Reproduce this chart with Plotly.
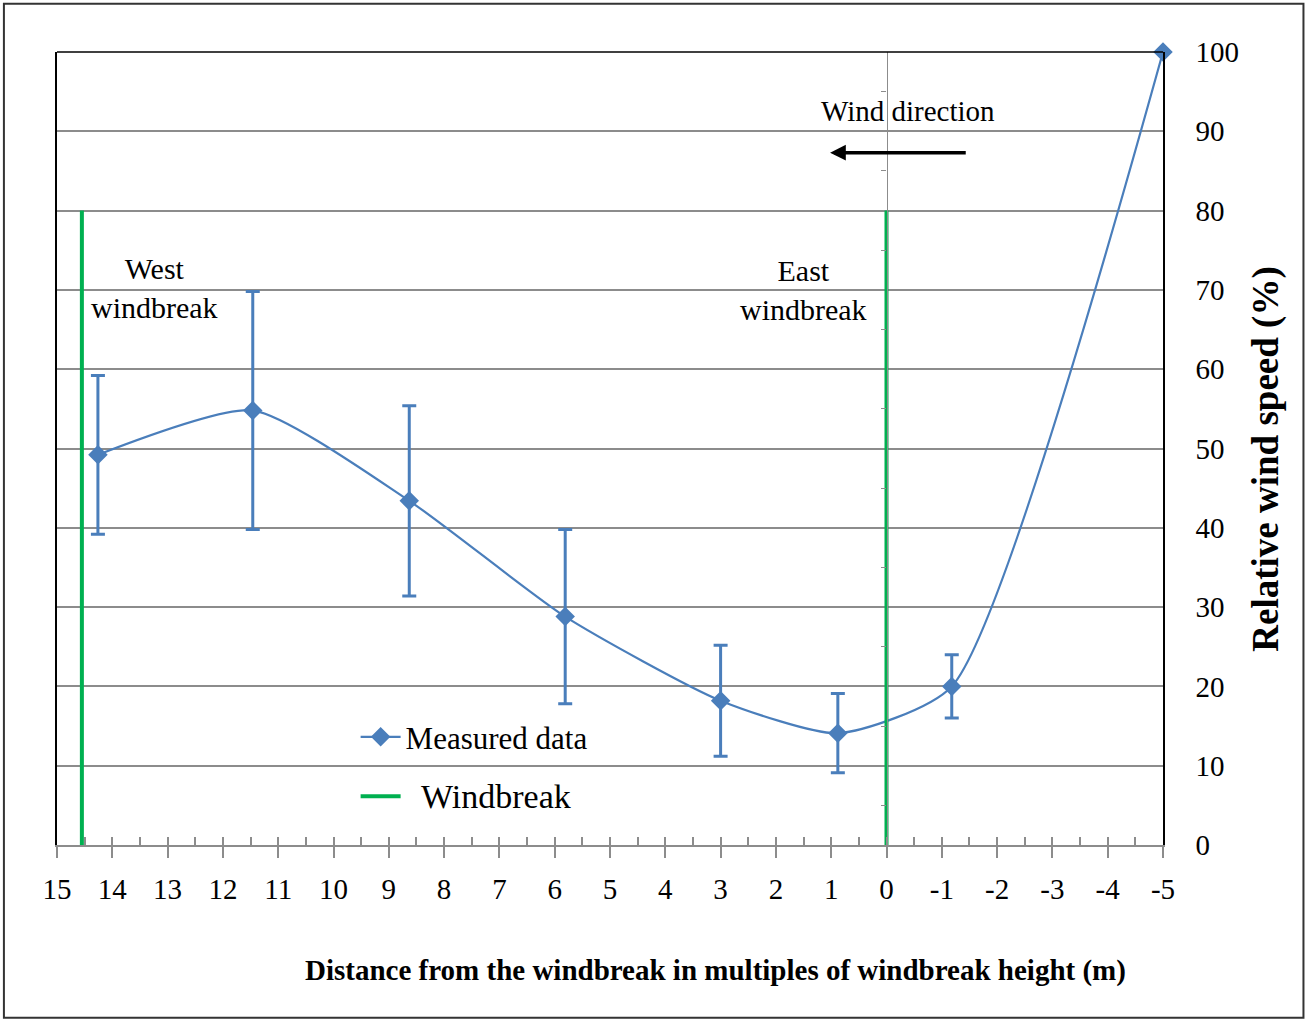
import plotly.graph_objects as go

# Measured relative wind speed versus distance (multiples of windbreak height)
distance = [14.26, 11.46, 8.63, 5.81, 3.0, 0.88, -1.18, -5.0]
rel_speed = [49.2, 54.8, 43.4, 28.8, 18.2, 14.1, 20.0, 100.0]
speed_err = [10.0, 15.0, 12.0, 11.0, 7.0, 5.0, 4.0, None]

# Windbreak positions and their drawn height
windbreak_x = [14.55, 0.0]
windbreak_top = 80

x_ticks = list(range(15, -6, -1))
y_ticks = list(range(0, 101, 10))
zero_line_ticks = list(range(5, 100, 10))

BLUE = "#4a7ebb"
GREEN = "#00b050"
GRID = "#8c8c8c"
FONT = "Liberation Serif"

wb_x, wb_y = [], []
for xv in windbreak_x:
    wb_x += [xv, xv, None]
    wb_y += [0, windbreak_top, None]

fig = go.Figure()

fig.add_trace(go.Scatter(
    x=distance, y=rel_speed, name="Measured data",
    mode="lines+markers",
    line=dict(color=BLUE, width=2.2, shape="spline", smoothing=0.6),
    marker=dict(symbol="diamond", size=15, color=BLUE),
    error_y=dict(type="data", array=speed_err, symmetric=True,
                 color=BLUE, thickness=3, width=7),
    cliponaxis=False,
    legendgroup="a",
))

fig.add_trace(go.Scatter(
    x=wb_x, y=wb_y,
    name="&nbsp;&nbsp;<span style='font-size:34px'>Windbreak</span>",
    mode="lines",
    line=dict(color=GREEN, width=4),
    xaxis="x2", yaxis="y2",
    legendgroup="b",
))

fig.update_layout(
    width=1307, height=1020,
    margin=dict(l=57, r=144, t=52, b=175),
    paper_bgcolor="white", plot_bgcolor="white",
    font=dict(family=FONT, color="black", size=28),
    showlegend=True,
    legend=dict(x=0.27, y=0.17, xanchor="left", yanchor="top",
                bgcolor="rgba(0,0,0,0)", font=dict(size=31),
                traceorder="grouped", tracegroupgap=16,
                itemwidth=40),
    xaxis=dict(range=[15, -5], tickvals=x_ticks, ticktext=[str(v) for v in x_ticks],
               ticks="outside", ticklen=11, tickwidth=1.5, tickcolor=GRID,
               showline=True, linecolor=GRID, linewidth=2,
               showgrid=False, zeroline=False,
               tickfont=dict(size=29), ticklabelstandoff=6),
    xaxis2=dict(range=[15, -5], overlaying="x", anchor="y", side="bottom",
                tick0=0, dtick=0.5, ticks="inside", ticklen=8, tickwidth=1.5,
                tickcolor=GRID, showticklabels=False, showgrid=False,
                zeroline=False, showline=False),
    yaxis=dict(range=[0, 100], tickvals=y_ticks, side="right",
               showline=True, linecolor="black", linewidth=1.5, mirror=True,
               ticks="", showgrid=True, gridcolor=GRID, gridwidth=1.8,
               zeroline=False, tickfont=dict(size=29), ticklabelstandoff=25),
    yaxis2=dict(range=[0, 100], overlaying="y", anchor="free", position=0.75,
                side="left", showline=True, linecolor=GRID, linewidth=1.2,
                tickvals=zero_line_ticks, ticks="outside", ticklen=5,
                tickcolor=GRID, showticklabels=False, showgrid=False,
                zeroline=False),
)

# Frame: top edge of the plot area and the outer border
fig.add_shape(type="line", xref="paper", yref="paper", x0=0, x1=1, y0=1, y1=1,
              line=dict(color="black", width=1.5))
fig.add_shape(type="rect", xref="paper", yref="paper",
              x0=-0.048, x1=1.127, y0=-0.218, y1=1.061,
              line=dict(color="#333333", width=2))

# Text labels
fig.add_annotation(x=0.595, y=-0.158, xref="paper", yref="paper",
                   text="<b>Distance from the windbreak in multiples of windbreak height (m)</b>",
                   showarrow=False, font=dict(size=29), xanchor="center", yanchor="middle")
fig.add_annotation(x=1.093, y=0.487, xref="paper", yref="paper",
                   text="<b>Relative wind speed (%)</b>", textangle=-90,
                   showarrow=False, font=dict(size=37), xanchor="center", yanchor="middle")
fig.add_annotation(x=13.23, y=70.3, text="West<br>windbreak", showarrow=False,
                   font=dict(size=30), align="center")
fig.add_annotation(x=1.5, y=70.0, text="East<br>windbreak", showarrow=False,
                   font=dict(size=30), align="center")
fig.add_annotation(x=-0.38, y=92.5, text="Wind direction", showarrow=False,
                   font=dict(size=29))
fig.add_annotation(x=1.02, y=87.3, ax=-1.46, ay=87.3, axref="x", ayref="y",
                   xref="x", yref="y", text="", showarrow=True,
                   arrowhead=2, arrowsize=0.9, arrowwidth=3.5, arrowcolor="black")

fig.write_html("out.html")
